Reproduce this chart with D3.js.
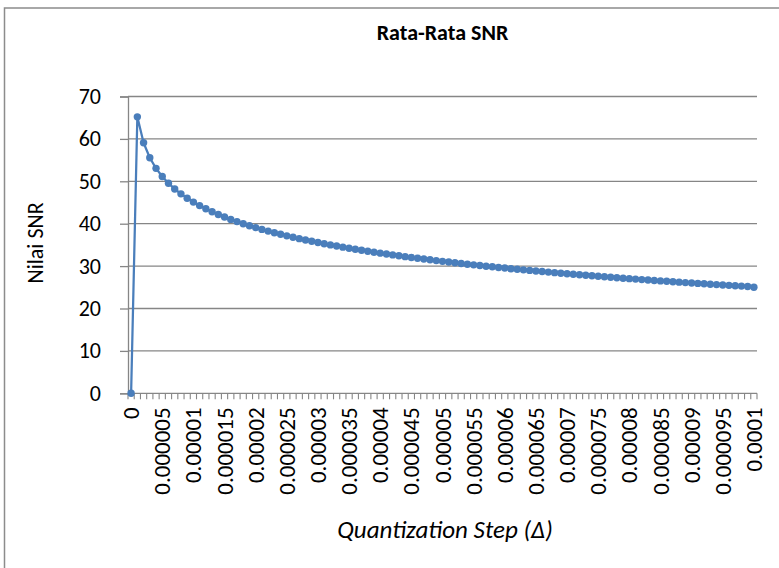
<!DOCTYPE html>
<html>
<head>
<meta charset="utf-8">
<script src="https://cdn.jsdelivr.net/npm/d3@7"></script>
<style>
  html, body { margin: 0; padding: 0; background: #fff; }
  svg { display: block; }
  text { font-family: Carlito, Calibri, Lato, "Open Sans", sans-serif; fill: #000; }
</style>
</head>
<body>
<svg id="chart" width="779" height="568"></svg>
<script>
// Quantization step categories (index k -> k * 1e-6)
const stepLabels = [
  "0","0.000001","0.000002","0.000003","0.000004","0.000005","0.000006","0.000007","0.000008","0.000009",
  "0.00001","0.000011","0.000012","0.000013","0.000014","0.000015","0.000016","0.000017","0.000018","0.000019",
  "0.00002","0.000021","0.000022","0.000023","0.000024","0.000025","0.000026","0.000027","0.000028","0.000029",
  "0.00003","0.000031","0.000032","0.000033","0.000034","0.000035","0.000036","0.000037","0.000038","0.000039",
  "0.00004","0.000041","0.000042","0.000043","0.000044","0.000045","0.000046","0.000047","0.000048","0.000049",
  "0.00005","0.000051","0.000052","0.000053","0.000054","0.000055","0.000056","0.000057","0.000058","0.000059",
  "0.00006","0.000061","0.000062","0.000063","0.000064","0.000065","0.000066","0.000067","0.000068","0.000069",
  "0.00007","0.000071","0.000072","0.000073","0.000074","0.000075","0.000076","0.000077","0.000078","0.000079",
  "0.00008","0.000081","0.000082","0.000083","0.000084","0.000085","0.000086","0.000087","0.000088","0.000089",
  "0.00009","0.000091","0.000092","0.000093","0.000094","0.000095","0.000096","0.000097","0.000098","0.000099",
  "0.0001"
];

// Average SNR for each quantization step
const snrValues = [
  0.00, 65.20, 59.10, 55.56, 53.06, 51.12, 49.54, 48.20, 47.04, 46.02,
  45.10, 44.27, 43.52, 42.82, 42.18, 41.58, 41.02, 40.49, 40.00, 39.53,
  39.08, 38.66, 38.25, 37.87, 37.50, 37.14, 36.80, 36.47, 36.16, 35.85,
  35.56, 35.27, 35.00, 34.73, 34.47, 34.22, 33.97, 33.74, 33.50, 33.28,
  33.06, 32.84, 32.64, 32.43, 32.23, 32.04, 31.85, 31.66, 31.48, 31.30,
  31.12, 30.95, 30.78, 30.61, 30.45, 30.29, 30.14, 29.98, 29.83, 29.68,
  29.54, 29.39, 29.25, 29.11, 28.98, 28.84, 28.71, 28.58, 28.45, 28.32,
  28.20, 28.08, 27.95, 27.83, 27.72, 27.60, 27.48, 27.37, 27.26, 27.15,
  27.04, 26.93, 26.82, 26.72, 26.61, 26.51, 26.41, 26.31, 26.21, 26.11,
  26.02, 25.92, 25.82, 25.73, 25.64, 25.55, 25.46, 25.37, 25.28, 25.19,
  25.00
];

const yTicks = [0, 10, 20, 30, 40, 50, 60, 70];
const labelEvery = 5;

const chartTitle = "Rata-Rata SNR";
const yTitle = "Nilai SNR";
const xTitle = "Quantization Step (\u0394)";

const W = 779, H = 568;
const plot = { left: 128, right: 757, top: 96.5, bottom: 393.3 };
const gridColor = "#868686";
const seriesColor = "#4a7ebb";

const svg = d3.select("#chart");

// Chart area frame
svg.append("rect")
  .attr("x", 4.5).attr("y", 8)
  .attr("width", W + 10).attr("height", H + 10)
  .attr("fill", "#fff")
  .attr("stroke", "#8c8c8c")
  .attr("stroke-width", 1.5);

const x = d3.scaleBand()
  .domain(stepLabels)
  .range([plot.left, plot.right])
  .paddingInner(0).paddingOuter(0);

const y = d3.scaleLinear()
  .domain([0, 70])
  .range([plot.bottom, plot.top]);

// Horizontal gridlines
svg.append("g")
  .selectAll("line")
  .data(yTicks.filter(d => d > 0))
  .join("line")
  .attr("x1", plot.left).attr("x2", plot.right)
  .attr("y1", d => y(d)).attr("y2", d => y(d))
  .attr("stroke", gridColor).attr("stroke-width", 1.3);

// Y axis
const yAxis = svg.append("g")
  .attr("transform", `translate(${plot.left},0)`)
  .call(d3.axisLeft(y).tickValues(yTicks).tickSize(8).tickPadding(19).tickFormat(d3.format("d")));
yAxis.select(".domain").attr("stroke", gridColor).attr("stroke-width", 1.3);
yAxis.selectAll(".tick line").attr("stroke", gridColor).attr("stroke-width", 1.3);
yAxis.selectAll(".tick text")
  .style("font-size", "22px")
  .attr("fill", "#000");

// X axis: a minor tick at every category boundary
const xAxisG = svg.append("g")
  .attr("transform", `translate(0,${plot.bottom})`);
xAxisG.append("line")
  .attr("x1", plot.left).attr("x2", plot.right)
  .attr("stroke", gridColor).attr("stroke-width", 1.3);
const boundaries = stepLabels.map(d => x(d)).concat([x.range()[1]]);
xAxisG.selectAll("line.minor")
  .data(boundaries)
  .join("line")
  .attr("class", "minor")
  .attr("x1", d => d).attr("x2", d => d)
  .attr("y1", 0).attr("y2", 6)
  .attr("stroke", gridColor).attr("stroke-width", 1.1);

// Category labels (every fifth), rotated
xAxisG.selectAll("text.cat")
  .data(stepLabels.filter((d, i) => i % labelEvery === 0))
  .join("text")
  .attr("class", "cat")
  .attr("transform", d => `translate(${x(d) + x.bandwidth() / 2},14) rotate(-90)`)
  .attr("text-anchor", "end")
  .attr("dy", "0.35em")
  .style("font-size", "23px")
  .text(d => d);

// Series line
const cx = (d, i) => x(stepLabels[i]) + x.bandwidth() / 2;
svg.append("path")
  .datum(snrValues)
  .attr("fill", "none")
  .attr("stroke", seriesColor)
  .attr("stroke-width", 2.25)
  .attr("stroke-linejoin", "round")
  .attr("d", d3.line().x(cx).y(d => y(d)));

// Markers
svg.append("g")
  .selectAll("circle")
  .data(snrValues)
  .join("circle")
  .attr("cx", cx)
  .attr("cy", d => y(d))
  .attr("r", 3.7)
  .attr("fill", seriesColor);

// Titles
svg.append("text")
  .attr("x", (plot.left + plot.right) / 2)
  .attr("y", 40)
  .attr("text-anchor", "middle")
  .style("font-size", "22px")
  .style("font-weight", "bold")
  .text(chartTitle);

svg.append("text")
  .attr("transform", `translate(35,${(plot.top + plot.bottom) / 2 - 2}) rotate(-90)`)
  .attr("text-anchor", "middle")
  .attr("dy", "0.35em")
  .style("font-size", "22px")
  .text(yTitle);

svg.append("text")
  .attr("x", 445)
  .attr("y", 538)
  .attr("text-anchor", "middle")
  .style("font-size", "25px")
  .style("font-style", "italic")
  .text(xTitle);
</script>
</body>
</html>
